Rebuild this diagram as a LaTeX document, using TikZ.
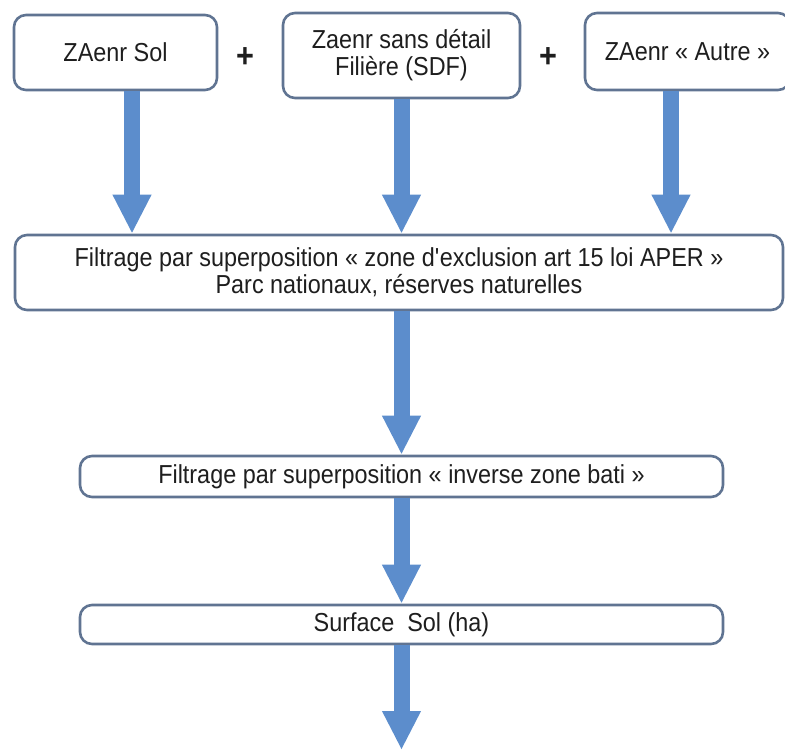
\documentclass[tikz,border=0pt]{standalone}
\usepackage{fontspec}
\setmainfont{Liberation Sans}[FakeStretch=0.9]
\usetikzlibrary{arrows.meta}
\definecolor{boxline}{RGB}{96,116,146}
\definecolor{flow}{RGB}{92,141,204}
\definecolor{txt}{RGB}{30,30,30}

\begin{document}
\begin{tikzpicture}[x=0.5pt,y=-0.5pt,
	box/.style={draw=boxline, line width=1.3pt, rounded corners=6pt, fill=white, text=txt, align=center, inner sep=0pt, font=\fontsize{13}{13.5}\selectfont},
	plus/.style={text=txt, font=\fontsize{17}{17}\selectfont\bfseries},
	flowarrow/.style={draw=flow, line width=8pt, -{Triangle[width=18pt,length=19.5pt]}}]
	\useasboundingbox (0,0) rectangle (785,751);
	
	%sources
	\node[box, minimum width=101.5pt, minimum height=37.5pt] (sol) at (115.5,52.5) {ZAenr Sol};
	\node[plus] (plusa) at (245,58) {+};
	\node[box, minimum width=118.5pt, minimum height=42.5pt] (sdf) at (401.5,55.5) {Zaenr sans détail\\Filière (SDF)};
	\node[plus] (plusb) at (548,58) {+};
	\node[box, minimum width=102.5pt, minimum height=38.5pt] (autre) at (687.5,51.5) {ZAenr « Autre »};
	
	%filters
	\node[box, minimum width=384pt, minimum height=37.5pt] (aper) at (399,272.5) {Filtrage par superposition « zone d\textquotesingle exclusion art 15 loi APER »\\Parc nationaux, réserves naturelles};
	\node[box, minimum width=321.5pt, minimum height=20.5pt] (bati) at (401.5,476.5) {Filtrage par superposition « inverse zone bati »};
	\node[box, minimum width=321.5pt, minimum height=19.5pt] (surf) at (401.5,624.5) {Surface~ Sol (ha)};
	\coordinate (out) at (401.5,750);
	
	%arrows
	\draw[flowarrow] ([xshift=8.25pt]sol.south) -- ([xshift=8.25pt]sol.south |- aper.north);
	\draw[flowarrow] (sdf.south) -- (sdf.south |- aper.north);
	\draw[flowarrow] ([xshift=-8.25pt]autre.south) -- ([xshift=-8.25pt]autre.south |- aper.north);
	\draw[flowarrow] (bati.north |- aper.south) -- (bati.north);
	\draw[flowarrow] (bati.south) -- (surf.north);
	\draw[flowarrow] (surf.south) -- (out);
\end{tikzpicture}
\end{document}
